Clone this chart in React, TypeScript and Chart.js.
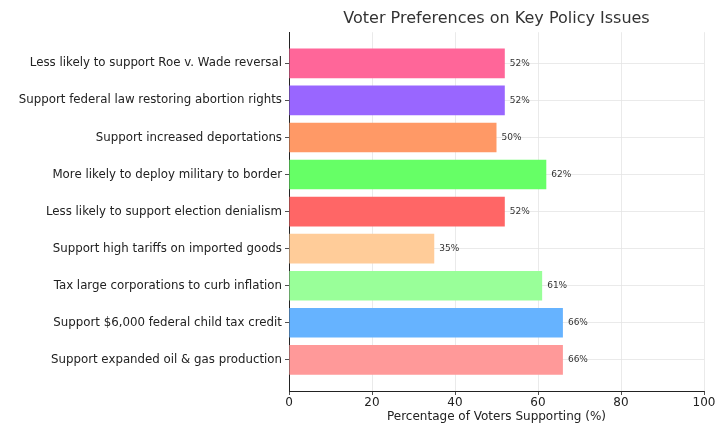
import React, { useEffect, useRef } from "react";
import { Chart, registerables } from "chart.js";

Chart.register(...registerables);

const categories: string[] = [
  "Less likely to support Roe v. Wade reversal",
  "Support federal law restoring abortion rights",
  "Support increased deportations",
  "More likely to deploy military to border",
  "Less likely to support election denialism",
  "Support high tariffs on imported goods",
  "Tax large corporations to curb inflation",
  "Support $6,000 federal child tax credit",
  "Support expanded oil & gas production",
];

const values: number[] = [52, 52, 50, 62, 52, 35, 61, 66, 66];

const barColors: string[] = [
  "#ff6699",
  "#9966ff",
  "#ff9966",
  "#66ff66",
  "#ff6666",
  "#ffcc99",
  "#99ff99",
  "#66b3ff",
  "#ff9999",
];

const xTicks: number[] = [0, 20, 40, 60, 80, 100];

const FONT = "'DejaVu Sans', sans-serif";

const valueLabelPlugin = {
  id: "valueLabels",
  afterDatasetsDraw(chart: any) {
    const ctx = chart.ctx;
    const meta = chart.getDatasetMeta(0);
    ctx.save();
    ctx.font = `9px ${FONT}`;
    ctx.fillStyle = "#333";
    ctx.textAlign = "left";
    ctx.textBaseline = "middle";
    meta.data.forEach((bar: any, i: number) => {
      ctx.fillText(`${values[i]}%`, bar.x + 5, bar.y);
    });
    ctx.restore();
  },
};

export default function App() {
  const canvasRef = useRef<HTMLCanvasElement | null>(null);

  useEffect(() => {
    document.body.style.margin = "0";
    const canvas = canvasRef.current;
    if (!canvas) return;
    const chart = new Chart(canvas, {
      type: "bar",
      data: {
        datasets: [
          {
            data: values.map((v, i) => ({ x: v, y: i })),
            backgroundColor: barColors,
            borderWidth: 0,
            categoryPercentage: 0.8,
            barPercentage: 1.0,
          },
        ],
      },
      options: {
        indexAxis: "y",
        animation: false,
        responsive: false,
        maintainAspectRatio: false,
        layout: { padding: { left: 0, right: 20, top: 0, bottom: 0 } },
        plugins: {
          legend: { display: false },
          tooltip: { enabled: false },
          title: {
            display: true,
            text: "Voter Preferences on Key Policy Issues",
            fullSize: false,
            color: "#333",
            font: { family: FONT, size: 16, weight: "normal" },
            padding: { top: 9, bottom: 4 },
          },
        },
        scales: {
          x: {
            type: "linear",
            position: "bottom",
            min: 0,
            max: 100,
            afterBuildTicks: (scale: any) => {
              scale.ticks = xTicks.map((v) => ({ value: v }));
            },
            afterFit: (scale: any) => {
              scale.height = 46;
            },
            border: { display: true, color: "#222", width: 1 },
            grid: {
              color: "#e4e4e4",
              lineWidth: 0.8,
              tickColor: "#222",
              tickLength: 4,
            },
            ticks: {
              color: "#222",
              font: { family: FONT, size: 12 },
              padding: 1,
            },
            title: {
              display: true,
              text: "Percentage of Voters Supporting (%)",
              color: "#222",
              font: { family: FONT, size: 12 },
              padding: { top: 0, bottom: 13 },
            },
          },
          y: {
            type: "linear",
            reverse: true,
            offset: false,
            min: -0.84,
            max: 8.84,
            afterBuildTicks: (scale: any) => {
              scale.ticks = categories.map((_, i) => ({ value: i }));
            },
            afterFit: (scale: any) => {
              scale.width = 289;
            },
            border: { display: true, color: "#222", width: 1 },
            grid: {
              offset: false,
              color: "#e4e4e4",
              lineWidth: 0.8,
              tickColor: "#222",
              tickLength: 4,
            },
            ticks: {
              color: "#222",
              font: { family: FONT, size: 11.8 },
              padding: 3,
              autoSkip: false,
              callback: (v: any) => categories[Math.round(Number(v))] ?? "",
            },
          },
        },
      },
      plugins: [valueLabelPlugin],
    });
    return () => chart.destroy();
  }, []);

  return (
    <div style={{ width: 724, height: 437 }}>
      <canvas ref={canvasRef} width={724} height={437} style={{ width: 724, height: 437 }} />
    </div>
  );
}
